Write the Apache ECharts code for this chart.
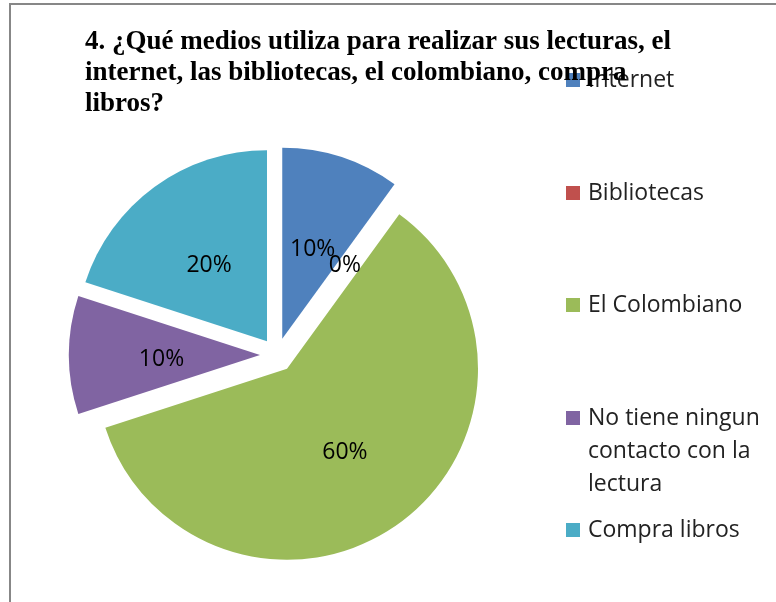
<!DOCTYPE html>
<html><head><meta charset="utf-8">
<script src="https://cdn.jsdelivr.net/npm/echarts@6/dist/echarts.min.js"></script>
<style>html,body{margin:0;padding:0;background:#fff}#c{width:776px;height:602px}</style>
</head><body><div id="c"></div>
<script>
const titleText = "4. ¿Qué medios utiliza para realizar sus lecturas, el\ninternet, las bibliotecas, el colombiano, compra\nlibros?";
const categories = ["Internet", "Bibliotecas", "El Colombiano", "No tiene ningun\ncontacto con la\nlectura", "Compra libros"];
const values = [10, 0, 60, 10, 20];
const colors = ["#4F81BD", "#C0504D", "#9BBB59", "#8064A2", "#4BACC6"];
const legendTops = [63.5, 176.5, 288.5, 335.5, 513.5];

const chart = echarts.init(document.getElementById('c'));
const legends = categories.map((name, i) => {
  const lines = name.split('\n').length;
  // pad with leading blank lines so the marker sits beside the first line
  const pad = '\n'.repeat(lines - 1);
  return {
    orient: 'vertical', left: 566, top: legendTops[i], padding: 0,
    itemWidth: 14, itemHeight: 14, icon: 'rect', selectedMode: false,
    data: [name],
    formatter: n => pad + n,
    textStyle: {
      fontFamily: 'Open Sans', fontSize: 23, color: '#222', lineHeight: 33,
      padding: [0, 0, 0, 3]
    }
  };
});
chart.setOption({
  animation: false,
  color: colors,
  title: {
    text: titleText, left: 85, top: 27, padding: 0,
    textStyle: { fontFamily: 'Liberation Serif', fontWeight: 'bold', fontSize: 27, lineHeight: 31, color: '#000' }
  },
  legend: legends,
  graphic: [{
    type: 'rect', shape: { x: 10, y: 4, width: 900, height: 800 },
    style: { fill: 'none', stroke: '#878787', lineWidth: 2 }, silent: true
  }],
  series: [{
    type: 'pie',
    center: [277, 355],
    radius: [0, 191],
    startAngle: 90,
    clockwise: true,
    selectedMode: 'multiple',
    selectedOffset: 17,
    avoidLabelOverlap: false,
    labelLayout: { hideOverlap: false, dy: 4 },
    label: {
      show: true, position: 'inside', formatter: '{d}%',
      fontFamily: 'Open Sans', fontSize: 23, color: '#000'
    },
    labelLine: { show: false },
    emphasis: { disabled: true },
    itemStyle: { borderWidth: 0 },
    data: categories.map((n, i) => ({ name: n, value: values[i], selected: true }))
  }]
});
</script></body></html>
